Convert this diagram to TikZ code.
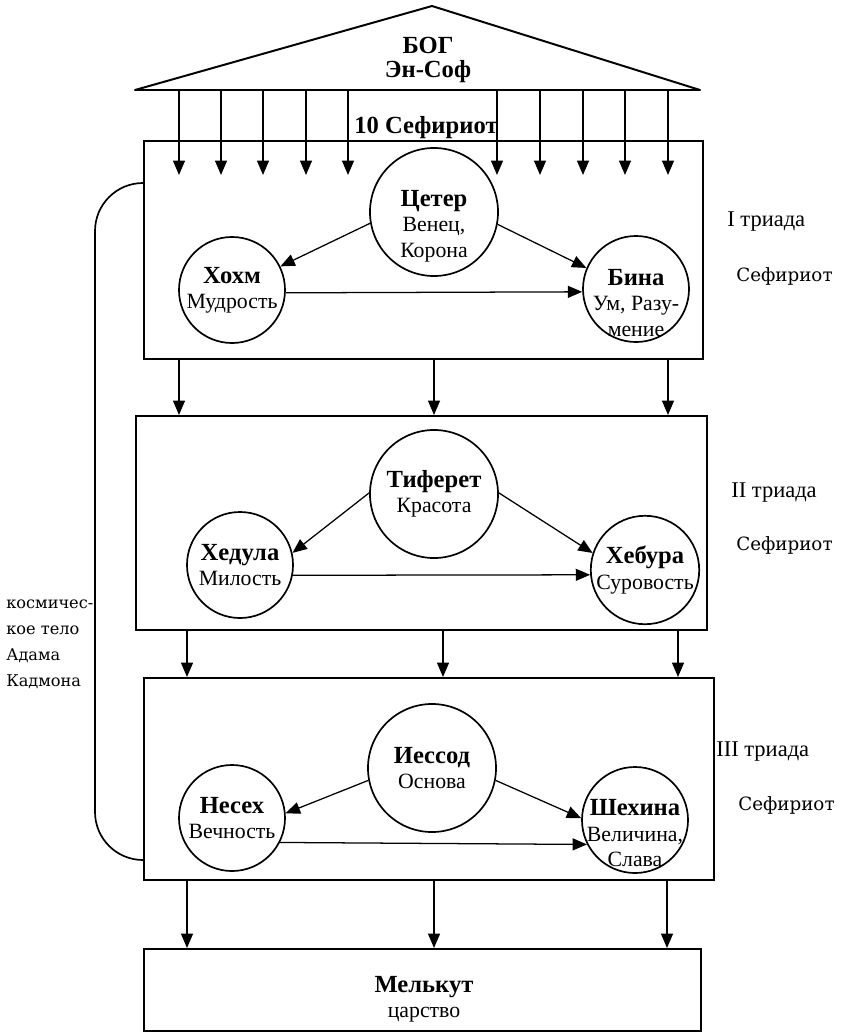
\documentclass[tikz,border=0pt]{standalone}
\usepackage{fontspec}
\setmainfont{Liberation Serif}
\newfontfamily\wideserif{DejaVu Serif}
\usetikzlibrary{arrows.meta}

\newcommand{\sefname}[1]{{\bfseries\fontsize{17.5}{18}\selectfont #1}}

\tikzset{
    box/.style={draw, line width=1.3pt, anchor=north west, inner sep=0pt},
    txt/.style={align=center, inner sep=0pt, font=\fontsize{15.5}{18}\selectfont},
    sefira/.style={circle, draw, line width=1.2pt, txt},
    big/.style={sefira, minimum size=3.2cm},
    small/.style={sefira, minimum size=2.65cm},
    title/.style={align=center, inner sep=0pt, font=\bfseries\fontsize{17.5}{17}\selectfont},
    arr/.style={line width=0.9pt, -{Triangle[length=0.36cm, width=0.3cm]}},
    side/.style={anchor=west, inner sep=0pt, font=\wideserif\fontsize{13}{15}\selectfont},
    triad/.style={anchor=west, inner sep=0pt, font=\fontsize{16}{18}\selectfont},
}

\begin{document}
\begin{tikzpicture}[x=0.025cm, y=-0.025cm]
    \useasboundingbox (0,0) rectangle (843,1033);

    % roof
    \coordinate (roofL) at (135,90);
    \coordinate (roofR) at (700,90);
    \coordinate (apex) at (432,6);
    \draw[line width=1.4pt, line join=round] (roofL) -- (apex) -- (roofR) -- cycle;
    \node[title] (god) at (428,60) {БОГ\\Эн-Соф};

    % triads
    \node[box, minimum width=13.975cm, minimum height=5.45cm] (b1) at (143,140) {};
    \node[box, minimum width=14.275cm, minimum height=5.35cm] (b2) at (135,415) {};
    \node[box, minimum width=14.25cm, minimum height=5.05cm] (b3) at (143,677) {};
    \node[box, minimum width=13.925cm, minimum height=2.05cm] (b4) at (143,948) {};
    \node[title, anchor=south] (sef10) at (426,139) {10 Сефириот};

    \coordinate (tipline) at (0,175);
    \foreach \x in {179,221,263,306,348,497,540,583,625,668}
        \draw[arr] (roofL -| \x,0) -- (tipline -| \x,0);
    \foreach \x in {179,434,668}
        \draw[arr] (b1.south -| \x,0) -- (b2.north -| \x,0);
    \foreach \x in {187,443,678}
        \draw[arr] (b2.south -| \x,0) -- (b3.north -| \x,0);
    \foreach \x in {187,434,667}
        \draw[arr] (b3.south -| \x,0) -- (b4.north -| \x,0);

    % I
    \node[big, label={[name=keterT, txt, yshift=-0.35cm]center:{\sefname{Цетер}\\Венец,\\Корона}}] (keter) at (434,212) {};
    \node[small] (hokhma) at (232,290) {\sefname{Хохм}\\Мудрость};
    \node[small, label={[name=binaT, txt, yshift=-0.35cm]center:{\sefname{Бина}\\Ум, Разу-\\мение}}] (bina) at (636,289) {};
    \draw[arr] (keter.190) -- (hokhma.26);
    \draw[arr] (keter.-11) -- (bina.157);
    \draw[arr] (hokhma.-3) -- (bina.183);

    % II
    \node[big] (tiferet) at (434,494) {\sefname{Тиферет}\\Красота};
    \node[small] (hesed) at (240,565) {\sefname{Хедула}\\Милость};
    \node[small] (gevura) at (645,570) {\sefname{Хебура}\\Суровость};
    \draw[arr] (tiferet.179) -- (hesed.13);
    \draw[arr] (tiferet.1) -- (gevura.162);
    \draw[arr] (hesed.-11) -- (gevura.185);

    % III
    \node[big] (yesod) at (432,768) {\sefname{Иессод}\\Основа};
    \node[small] (nesah) at (232,818) {\sefname{Несех}\\Вечность};
    \node[small, label={[name=shekhinaT, txt, yshift=-0.33cm]center:{\sefname{Шехина}\\Величина,\\Слава}}] (shekhina) at (635,820) {};
    \draw[arr] (yesod.191) -- (nesah.5);
    \draw[arr] (yesod.-11) -- (shekhina.178);
    \draw[arr] (nesah.-27) -- (shekhina.207);

    \node[txt] (malkhut) at (424,999) {\sefname{Мелькут}\\царство};

    % Adam Kadmon
    \draw[line width=1.2pt, rounded corners=1.2cm] (b1.west |- 0,183) -- (95,183) -- (95,860) -- (b3.west |- 0,860);
    \node[side, align=left, font=\wideserif\fontsize{11.5}{18.4}\selectfont] (adam) at (6,644) {космичес-\\кое тело\\Адама\\Кадмона};

    \node[triad] (tr1) at (727,222) {I триада};
    \node[side] (s1) at (736,276) {Сефириот};
    \node[triad] (tr2) at (731,493) {II триада};
    \node[side] (s2) at (736,545) {Сефириот};
    \node[triad] (tr3) at (716,752) {III триада};
    \node[side] (s3) at (738,805) {Сефириот};
\end{tikzpicture}
\end{document}
